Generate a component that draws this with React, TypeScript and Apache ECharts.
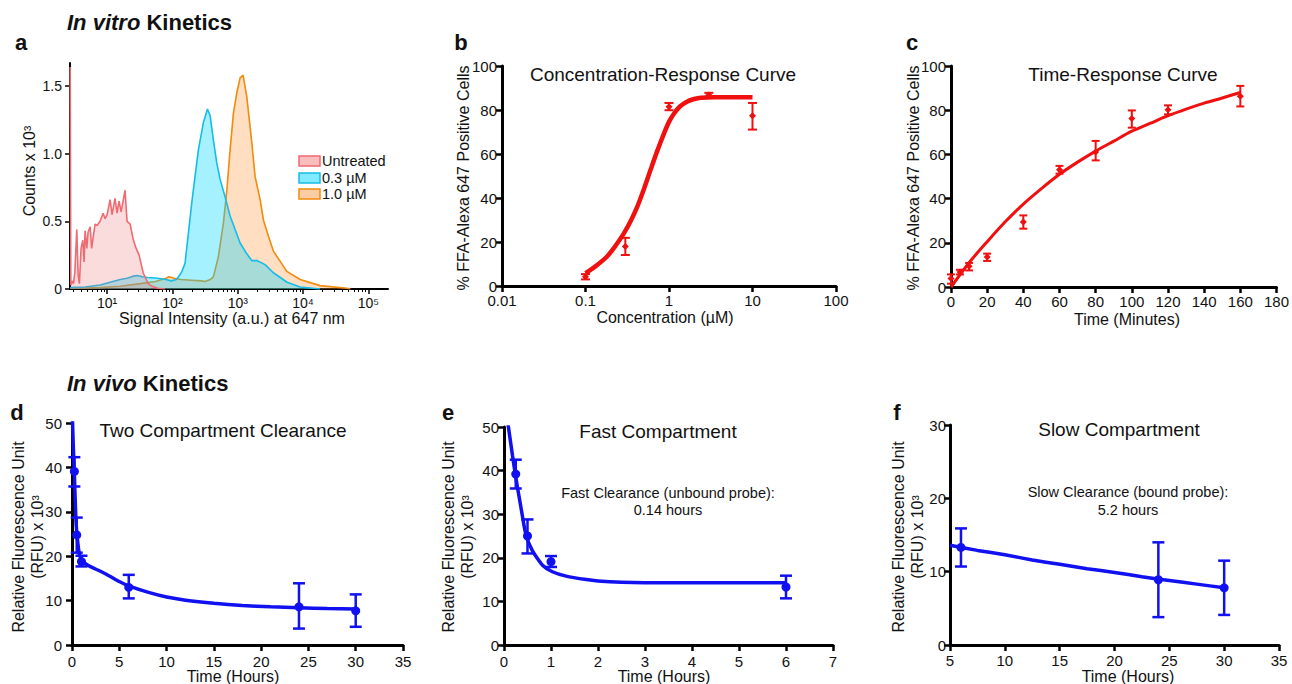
import React, { useEffect, useRef } from 'react';
import * as echarts from 'echarts';

const FONT = '"Liberation Sans", Arial, Helvetica, sans-serif';

// ---------- Panel a: flow cytometry histograms (intensity, counts x 10^3)
const histLegend = ['Untreated', '0.3 µM', '1.0 µM'];
const histUntreated: [number, number][] = [
  [2.72, 1.64], [2.78, 0.03], [2.9, 0.06], [3.05, 0.04], [3.2, 0.12], [3.43, 0.44], [3.6, 0.1], [3.76, 0.04],
  [3.99, 0.3], [4.24, 0.36], [4.44, 0.2], [4.6, 0.43], [4.88, 0.3], [5.11, 0.42], [5.49, 0.46], [5.79, 0.3],
  [6.1, 0.38], [6.55, 0.48], [7.0, 0.47], [7.8, 0.5], [8.67, 0.56], [9.3, 0.52], [10, 0.55], [11.1, 0.66],
  [11.9, 0.55], [13.2, 0.67], [14.2, 0.56], [15.2, 0.65], [16.4, 0.57], [18.8, 0.73], [20.2, 0.5], [22.5, 0.48],
  [25, 0.37], [27.8, 0.3], [30.9, 0.25], [35.6, 0.12], [42.4, 0.04], [48.9, 0.02], [60, 0.005], [77, 0],
];
const hist03: [number, number][] = [
  [2.72, 0.01], [4.6, 0.015], [7.8, 0.03], [11.1, 0.05], [15.9, 0.07], [20.2, 0.08], [25, 0.095], [29, 0.1],
  [34.7, 0.09], [41.6, 0.085], [59.8, 0.08], [79.7, 0.07], [95.6, 0.06], [114.7, 0.07], [128, 0.1], [140, 0.13],
  [156, 0.19], [198, 0.64], [250, 1.03], [298, 1.23], [344, 1.33], [378, 1.28], [424, 1.1], [478, 0.93],
  [537, 0.81], [641, 0.68], [764, 0.54], [912, 0.44], [1087, 0.34], [1377, 0.26], [1644, 0.21], [1960, 0.21],
  [2624, 0.18], [3516, 0.12], [5700, 0.05], [9020, 0.015], [18200, 0],
];
const hist10: [number, number][] = [
  [2.72, 0.005], [7.8, 0.01], [15.9, 0.02], [32.5, 0.04], [55, 0.055], [79.7, 0.08], [88.8, 0.09], [106, 0.08],
  [135, 0.07], [196, 0.065], [280, 0.06], [316, 0.055], [378, 0.07], [424, 0.09], [506, 0.24], [604, 0.49],
  [681, 0.73], [764, 1.03], [859, 1.3], [968, 1.45], [1087, 1.56], [1208, 1.58], [1377, 1.42], [1644, 1.08],
  [1845, 0.83], [2203, 0.66], [2472, 0.51], [2951, 0.39], [3516, 0.28], [5650, 0.13], [9020, 0.07],
  [18200, 0.025], [47300, 0.005], [53000, 0],
];
const histDecades = [1, 2, 3, 4, 5];
const histYTicks = [0, 0.5, 1.0, 1.5];

// ---------- Panel b: concentration-response
const concX = [0.1, 0.3, 1, 3, 10];
const concMean = [4.2, 17.9, 81.5, 86.8, 77.4];
const concLo = [3.0, 14.1, 79.9, 86.0, 71.1];
const concHi = [5.4, 21.9, 83.2, 87.8, 83.2];
const concFitX = [0.1, 0.13, 0.18, 0.23, 0.288, 0.35, 0.416, 0.5, 0.6, 0.72, 0.87, 1.0, 1.15, 1.35, 1.66, 2.0, 2.4, 3.47, 5, 10];
const concFitY = [5.8, 8.8, 13.3, 18.4, 23.9, 29.8, 36, 44, 52.7, 61.2, 69.3, 74.6, 78.4, 81.6, 83.9, 85.0, 85.6, 85.8, 85.8, 85.8];

// ---------- Panel c: time-response
const timeX = [0, 5, 10, 20, 40, 60, 80, 100, 120, 160];
const timeMean = [3.8, 6.8, 9.4, 13.6, 29.4, 53.1, 61.1, 76.2, 80.2, 86.3];
const timeLo = [1.5, 5.7, 7.5, 11.8, 26.4, 51.3, 57.3, 72.1, 78.1, 81.7];
const timeHi = [5.7, 7.8, 10.9, 15.1, 32.4, 54.8, 66.1, 79.9, 82.2, 91.0];
const timeFitX = [0, 10, 20, 30, 40, 50, 60, 70, 80, 90, 100, 110, 120, 130, 140, 150, 160];
const timeFitY = [0, 11, 20.5, 29.5, 37.5, 44.5, 51, 56.5, 61.5, 66, 70.5, 74, 77.5, 80.5, 83.2, 85.5, 88];

// ---------- Panel d: two compartment clearance
const twoX = [0.25, 0.5, 1, 6, 24, 30];
const twoMean = [39.1, 24.8, 18.8, 13.0, 8.6, 7.7];
const twoLo = [35.7, 20.8, 17.7, 10.5, 3.7, 4.1];
const twoHi = [42.3, 28.7, 20.1, 15.8, 13.9, 11.4];
const twoFitX = [0.02, 0.06, 0.15, 0.25, 0.4, 0.5, 0.75, 1, 1.5, 2, 3, 4, 5, 6, 8, 10, 12, 15, 18, 21, 24, 27, 30];
const twoFitY = [53, 50, 44, 38.5, 29, 25.5, 20.8, 19.2, 18.2, 17.6, 16.6, 15.5, 14.3, 13.3, 11.9, 10.8, 10.1, 9.4, 8.9, 8.6, 8.4, 8.2, 8.1];

// ---------- Panel e: fast compartment
const fastX = [0.25, 0.5, 1, 6];
const fastMean = [39.2, 25.0, 19.1, 13.3];
const fastLo = [35.9, 21.0, 17.9, 10.7];
const fastHi = [42.5, 28.8, 20.4, 15.9];
const fastFitX = [0.07, 0.09, 0.18, 0.25, 0.36, 0.46, 0.6, 0.82, 1.03, 1.32, 1.75, 2, 2.5, 3, 4, 5, 6];
const fastFitY = [52, 50.3, 43.5, 38.5, 31.6, 25.6, 21.7, 18.3, 16.8, 15.8, 15.0, 14.7, 14.4, 14.3, 14.3, 14.3, 14.3];

// ---------- Panel f: slow compartment
const slowX = [6, 24, 30];
const slowMean = [13.3, 8.9, 7.8];
const slowLo = [10.7, 3.8, 4.1];
const slowHi = [15.9, 14.0, 11.5];
const slowFitX = [5, 7.5, 10, 12.5, 15, 17.5, 20, 22.5, 25, 27.5, 30];
const slowFitY = [13.6, 12.9, 12.3, 11.6, 11.0, 10.4, 9.9, 9.3, 8.8, 8.3, 7.8];

const RED = '#f01010';
const BLUE = '#1010f0';
const SUP: Record<number, string> = { 1: '¹', 2: '²', 3: '³', 4: '⁴', 5: '⁵' };

function pairs(xs: number[], ys: number[]) {
  return xs.map((x, i) => [x, ys[i]]);
}

function errSeries(xi: number, yi: number, xs: number[], lo: number[], hi: number[], color: string, lw: number, cap: number) {
  return {
    type: 'custom',
    xAxisIndex: xi,
    yAxisIndex: yi,
    data: xs.map((x, i) => [x, lo[i], hi[i]]),
    encode: { x: 0, y: [1, 2] },
    silent: true,
    z: 3,
    renderItem: (_p: any, api: any) => {
      const x = api.value(0);
      const a = api.coord([x, api.value(1)]);
      const b = api.coord([x, api.value(2)]);
      const style = { stroke: color, lineWidth: lw, fill: 'none' };
      return {
        type: 'group',
        children: [
          { type: 'line', shape: { x1: a[0], y1: a[1], x2: b[0], y2: b[1] }, style },
          { type: 'line', shape: { x1: a[0] - cap, y1: a[1], x2: a[0] + cap, y2: a[1] }, style },
          { type: 'line', shape: { x1: b[0] - cap, y1: b[1], x2: b[0] + cap, y2: b[1] }, style },
        ],
      };
    },
  };
}

function pointSeries(xi: number, yi: number, xs: number[], ys: number[], color: string, symbol: string, size: number) {
  return {
    type: 'scatter', xAxisIndex: xi, yAxisIndex: yi, data: pairs(xs, ys),
    symbol, symbolSize: size, itemStyle: { color, opacity: 1 }, z: 4, silent: true,
  };
}

function fitSeries(xi: number, yi: number, xs: number[], ys: number[], color: string, width: number, smooth: number) {
  return {
    type: 'line', xAxisIndex: xi, yAxisIndex: yi, data: pairs(xs, ys), showSymbol: false, symbol: 'none',
    smooth, clip: true, lineStyle: { color, width }, z: 2, silent: true,
  };
}

function histSeries(data: [number, number][], stroke: string, fill: string, z: number) {
  return {
    type: 'line', xAxisIndex: 0, yAxisIndex: 0, data, showSymbol: false, symbol: 'none', smooth: false,
    lineStyle: { color: stroke, width: 1.6 }, areaStyle: { color: fill, origin: 'start' }, z, silent: true,
  };
}

function thickAxis(grid: number, extra: any, labelMargin: number) {
  return {
    gridIndex: grid,
    axisLine: { show: true, onZero: false, lineStyle: { color: '#000', width: 3 } },
    axisTick: { show: true, inside: false, length: 6, lineStyle: { color: '#000', width: 2.5 } },
    axisLabel: { color: '#111', fontSize: 15, fontFamily: FONT, margin: labelMargin },
    splitLine: { show: false },
    ...extra,
  };
}

function txt(text: string, x: number, y: number, size: number, opts: any = {}) {
  const { rotation, weight, align, lineHeight, rich } = opts;
  return {
    type: 'text', x, y, rotation: rotation || 0, z: 100, silent: true,
    style: {
      text, fontSize: size, fontFamily: FONT, fontWeight: weight || 'normal', fill: '#111',
      align: align || 'center', textAlign: align || 'center',
      verticalAlign: 'middle', textVerticalAlign: 'middle',
      lineHeight: lineHeight || undefined, rich: rich || undefined,
    },
  };
}

export default function App() {
  const ref = useRef<HTMLDivElement>(null);
  useEffect(() => {
    if (!ref.current) return;
    const chart = echarts.init(ref.current, null, { renderer: 'svg' });
    const lo10 = Math.log10(2.7);
    const hi10 = Math.log10(200000);
    const minorTicks: number[] = [];
    for (let n = 0; n <= 5; n++) {
      for (let k = 2; k <= 9; k++) {
        const v = n + Math.log10(k);
        if (v > lo10 + 0.01 && v < hi10 - 0.01) minorTicks.push(v);
      }
    }
    const HALF = Math.PI / 2;
    const richKin = { i: { fontStyle: 'italic', fontWeight: 'bold', fontSize: 22, fontFamily: FONT, fill: '#111' } };
    const aLine = { color: '#000', width: 2 };

    const option: any = {
      animation: false,
      backgroundColor: '#fff',
      textStyle: { fontFamily: FONT },
      grid: [
        { left: 70, top: 63, width: 318, height: 226 },
        { left: 502, top: 66, width: 334, height: 220 },
        { left: 951, top: 66, width: 330, height: 221 },
        { left: 72, top: 423, width: 331, height: 222 },
        { left: 504, top: 427, width: 329, height: 218 },
        { left: 950, top: 425, width: 329, height: 220 },
      ],
      xAxis: [
        { gridIndex: 0, type: 'log', logBase: 10, min: 2.7, max: 200000, show: false, position: 'bottom' },
        {
          gridIndex: 0, type: 'value', min: lo10, max: hi10, position: 'bottom',
          axisLine: { show: true, onZero: false, lineStyle: aLine },
          axisTick: { show: true, length: 5, customValues: histDecades, lineStyle: { color: '#000', width: 1.5 } },
          axisLabel: {
            customValues: histDecades, color: '#111', fontSize: 14, fontFamily: FONT, margin: 7,
            formatter: (v: number) => '10' + (SUP[Math.round(v)] || ''),
          },
          splitLine: { show: false },
        },
        {
          gridIndex: 0, type: 'value', min: lo10, max: hi10, position: 'bottom',
          axisLine: { show: false },
          axisTick: { show: true, length: 3, customValues: minorTicks, lineStyle: { color: '#000', width: 1 } },
          axisLabel: { show: false },
          splitLine: { show: false },
        },
        thickAxis(1, {
          type: 'log', logBase: 10, min: 0.01, max: 100, position: 'bottom',
          axisLabel: {
            color: '#111', fontSize: 15, fontFamily: FONT, margin: 7,
            formatter: (v: number) => String(parseFloat(Number(v).toPrecision(4))),
          },
        }, 7),
        thickAxis(2, { type: 'value', min: 0, max: 180, interval: 20, position: 'bottom' }, 7),
        thickAxis(3, { type: 'value', min: 0, max: 35, interval: 5, position: 'bottom' }, 9),
        thickAxis(4, { type: 'value', min: 0, max: 7, interval: 1, position: 'bottom' }, 9),
        thickAxis(5, { type: 'value', min: 5, max: 35, interval: 5, position: 'bottom' }, 8),
      ],
      yAxis: [
        {
          gridIndex: 0, type: 'value', min: 0, max: 1.67, position: 'left',
          axisLine: { show: true, onZero: false, lineStyle: aLine },
          axisTick: { show: true, length: 5, customValues: histYTicks, lineStyle: { color: '#000', width: 1.5 } },
          axisLabel: {
            customValues: histYTicks, color: '#111', fontSize: 14, fontFamily: FONT, margin: 8,
            formatter: (v: number) => (v === 0 ? '0' : v.toFixed(1)),
          },
          splitLine: { show: false },
        },
        thickAxis(1, { type: 'value', min: 0, max: 100, interval: 20, position: 'left' }, 5),
        thickAxis(2, { type: 'value', min: 0, max: 100, interval: 20, position: 'left' }, 5),
        thickAxis(3, { type: 'value', min: 0, max: 50, interval: 10, position: 'left' }, 10),
        thickAxis(4, { type: 'value', min: 0, max: 50, interval: 10, position: 'left' }, 5),
        thickAxis(5, { type: 'value', min: 0, max: 30, interval: 10, position: 'left' }, 4),
      ],
      series: [
        histSeries(hist10, '#f28a0c', 'rgba(255,150,60,0.45)', 1),
        histSeries(hist03, '#16bce8', 'rgba(0,215,255,0.5)', 2),
        histSeries(histUntreated, '#f06a72', 'rgba(240,110,115,0.35)', 3),

        fitSeries(3, 1, concFitX, concFitY, RED, 4.5, 0.3),
        errSeries(3, 1, concX, concLo, concHi, RED, 2, 4.5),
        pointSeries(3, 1, concX, concMean, RED, 'diamond', 7),

        fitSeries(4, 2, timeFitX, timeFitY, RED, 3, 0.3),
        errSeries(4, 2, timeX, timeLo, timeHi, RED, 2, 4),
        pointSeries(4, 2, timeX, timeMean, RED, 'diamond', 7),

        fitSeries(5, 3, twoFitX, twoFitY, BLUE, 3.5, 0.2),
        errSeries(5, 3, twoX, twoLo, twoHi, BLUE, 2.5, 6),
        pointSeries(5, 3, twoX, twoMean, BLUE, 'circle', 9),

        fitSeries(6, 4, fastFitX, fastFitY, BLUE, 3.5, 0.2),
        errSeries(6, 4, fastX, fastLo, fastHi, BLUE, 2.5, 6),
        pointSeries(6, 4, fastX, fastMean, BLUE, 'circle', 9),

        fitSeries(7, 5, slowFitX, slowFitY, BLUE, 3.5, 0.2),
        errSeries(7, 5, slowX, slowLo, slowHi, BLUE, 2.5, 6),
        pointSeries(7, 5, slowX, slowMean, BLUE, 'circle', 9),
      ],
      graphic: [
        // section headers
        txt('{i|In vitro} Kinetics', 67, 22, 22, { weight: 'bold', align: 'left', rich: richKin }),
        txt('{i|In vivo} Kinetics', 67, 383, 22, { weight: 'bold', align: 'left', rich: richKin }),
        // panel letters
        txt('a', 21, 42, 22, { weight: 'bold' }),
        txt('b', 461, 42, 22, { weight: 'bold' }),
        txt('c', 912, 42, 22, { weight: 'bold' }),
        txt('d', 17, 412, 22, { weight: 'bold' }),
        txt('e', 448, 412, 22, { weight: 'bold' }),
        txt('f', 897, 412, 22, { weight: 'bold' }),
        // panel a
        txt('Counts x 10³', 29, 171, 16, { rotation: HALF }),
        txt('Signal Intensity (a.u.) at 647 nm', 232, 318, 16),
        { type: 'rect', shape: { x: 299, y: 156, width: 21, height: 10 }, style: { fill: 'rgba(248,190,190,1)', stroke: '#f06a72', lineWidth: 1.5 }, z: 100 },
        { type: 'rect', shape: { x: 299, y: 173, width: 21, height: 10 }, style: { fill: 'rgba(128,235,255,1)', stroke: '#16bce8', lineWidth: 1.5 }, z: 100 },
        { type: 'rect', shape: { x: 299, y: 189, width: 21, height: 10 }, style: { fill: 'rgba(250,205,165,1)', stroke: '#f28a0c', lineWidth: 1.5 }, z: 100 },
        txt(histLegend[0], 322, 161, 14.5, { align: 'left' }),
        txt(histLegend[1], 322, 178, 14.5, { align: 'left' }),
        txt(histLegend[2], 322, 194, 14.5, { align: 'left' }),
        // panel b
        txt('Concentration-Response Curve', 663, 74, 19),
        txt('% FFA-Alexa 647 Positive Cells', 463, 178, 16, { rotation: HALF }),
        txt('Concentration (µM)', 665, 317, 16),
        // panel c
        txt('Time-Response Curve', 1123, 74, 19),
        txt('% FFA-Alexa 647 Positive Cells', 913, 178, 16, { rotation: HALF }),
        txt('Time (Minutes)', 1127, 319, 16),
        // panel d
        txt('Two Compartment Clearance', 223, 430, 19),
        txt('Relative Fluorescence Unit\n(RFU) x 10³', 28, 537, 16, { rotation: HALF, lineHeight: 19 }),
        txt('Time (Hours)', 233, 676, 16),
        // panel e
        txt('Fast Compartment', 658, 431, 19),
        txt('Fast Clearance (unbound probe):', 668, 493, 14.5),
        txt('0.14 hours', 668, 510, 14.5),
        txt('Relative Fluorescence Unit\n(RFU) x 10³', 458, 537, 16, { rotation: HALF, lineHeight: 19 }),
        txt('Time (Hours)', 664, 676, 16),
        // panel f
        txt('Slow Compartment', 1119, 429, 19),
        txt('Slow Clearance (bound probe):', 1128, 492, 14.5),
        txt('5.2 hours', 1128, 510, 14.5),
        txt('Relative Fluorescence Unit\n(RFU) x 10³', 908, 537, 16, { rotation: HALF, lineHeight: 19 }),
        txt('Time (Hours)', 1128, 676, 16),
      ],
    };
    chart.setOption(option);
    return () => chart.dispose();
  }, []);
  return (
    <div
      ref={ref}
      style={{ position: 'fixed', left: 0, top: 0, width: 1292, height: 684, background: '#fff' }}
    />
  );
}
